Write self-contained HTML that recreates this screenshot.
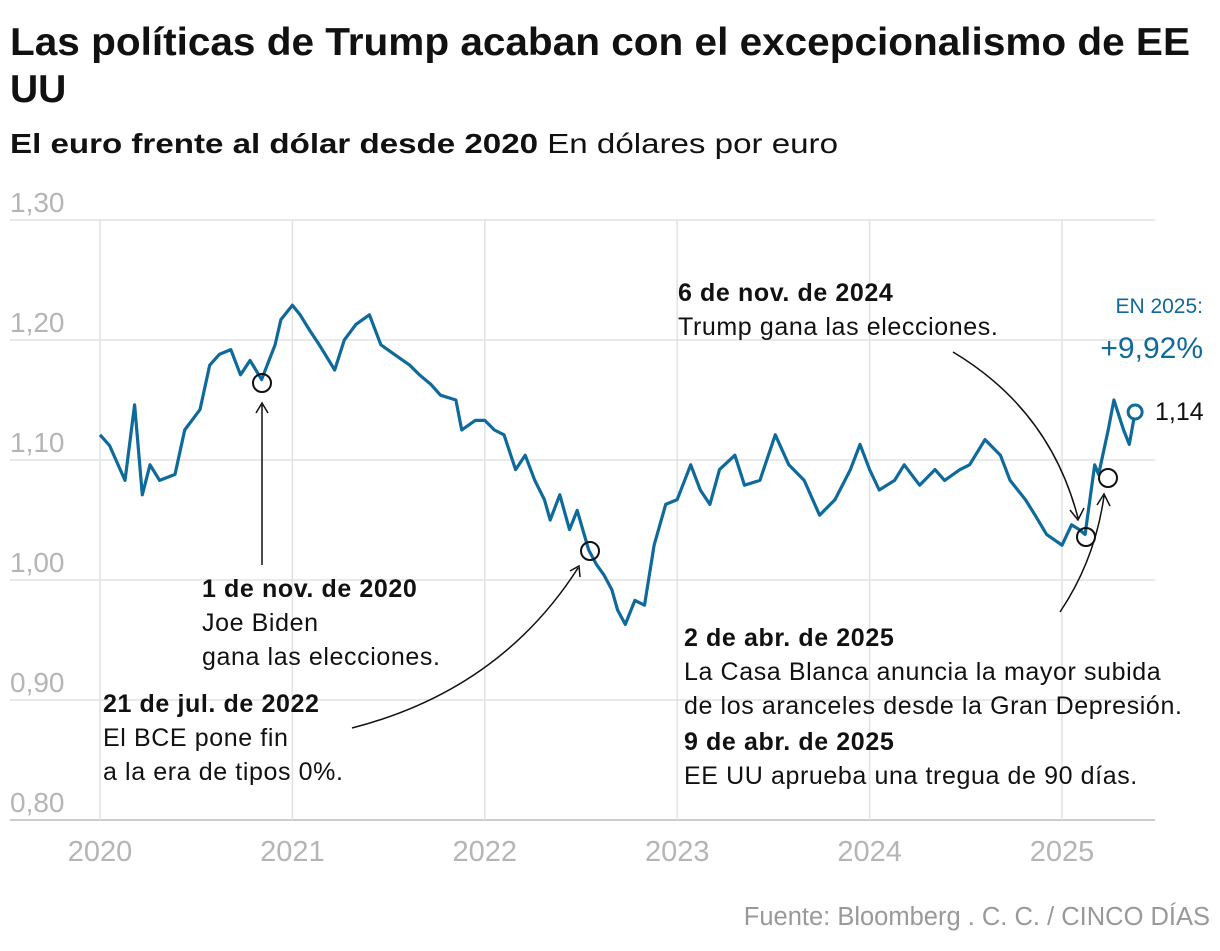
<!DOCTYPE html>
<html><head><meta charset="utf-8"><style>
body{margin:0;background:#fff;width:1220px;height:946px;overflow:hidden;font-family:"Liberation Sans",sans-serif}
</style></head><body>
<svg width="1220" height="946" viewBox="0 0 1220 946" xmlns="http://www.w3.org/2000/svg" font-family="Liberation Sans, sans-serif">
<text x="10" y="55" font-size="39" font-weight="bold" fill="#111" textLength="1180" lengthAdjust="spacingAndGlyphs">Las políticas de Trump acaban con el excepcionalismo de EE</text>
<text x="10" y="102" font-size="39" font-weight="bold" fill="#111">UU</text>
<text x="10" y="153" font-size="28" fill="#111" textLength="828" lengthAdjust="spacingAndGlyphs"><tspan font-weight="bold">El euro frente al dólar desde 2020</tspan> En dólares por euro</text>
<g id="grid"></g>
<g id="axes"></g>
<path id="line" fill="none" stroke="#0f6a9c" stroke-width="3.2" stroke-linejoin="round"/>
<g fill="none" stroke="#111" stroke-width="1.5">
<circle cx="262" cy="383" r="9" stroke-width="2"/>
<circle cx="590" cy="551" r="9" stroke-width="2"/>
<circle cx="1086" cy="537" r="9" stroke-width="2"/>
<circle cx="1108" cy="478" r="9" stroke-width="2"/>
<path d="M262 565 L262 405 M256 413 L262 403 L268 413"/>
<path d="M352 728 Q500 690 578 568 M570 571 L579 566 L580 577"/>
<path d="M953 352 Q1050 410 1078 518 M1070 510 L1078 520 L1084 508"/>
<path d="M1060 612 Q1095 560 1104 496 M1097 505 L1104 494 L1110 506"/>
</g>
<circle id="enddot" r="7" fill="#fff" stroke="#0f6a9c" stroke-width="3"/>
<text x="1155" y="420" font-size="25" fill="#111">1,14</text>
<text x="1203" y="313" font-size="21" fill="#0f6a9c" text-anchor="end">EN 2025:</text>
<text x="1203" y="358" font-size="30" fill="#0f6a9c" text-anchor="end">+9,92%</text>
<g font-size="25" fill="#111" letter-spacing="0.6">
<text x="202" y="597" font-weight="bold">1 de nov. de 2020</text>
<text x="202" y="631">Joe Biden</text>
<text x="202" y="665">gana las elecciones.</text>
<text x="103" y="712" font-weight="bold">21 de jul. de 2022</text>
<text x="103" y="746">El BCE pone fin</text>
<text x="103" y="780">a la era de tipos 0%.</text>
<text x="678" y="301" font-weight="bold">6 de nov. de 2024</text>
<text x="678" y="335">Trump gana las elecciones.</text>
<text x="684" y="646" font-weight="bold">2 de abr. de 2025</text>
<text x="684" y="680">La Casa Blanca anuncia la mayor subida</text>
<text x="684" y="714">de los aranceles desde la Gran Depresión.</text>
<text x="684" y="750" font-weight="bold">9 de abr. de 2025</text>
<text x="684" y="784">EE UU aprueba una tregua de 90 días.</text>
</g>
<text x="1210" y="925" font-size="25.5" fill="#999" text-anchor="end">Fuente: Bloomberg . C. C. / CINCO DÍAS</text>
<script>
const dates=[2020.00,2020.05,2020.13,2020.18,2020.22,2020.26,2020.31,2020.39,2020.44,2020.52,2020.57,2020.62,2020.68,2020.73,2020.78,2020.84,2020.91,2020.94,2021.00,2021.04,2021.09,2021.14,2021.22,2021.27,2021.33,2021.40,2021.46,2021.53,2021.61,2021.66,2021.72,2021.77,2021.85,2021.88,2021.95,2022.00,2022.05,2022.10,2022.16,2022.21,2022.26,2022.31,2022.34,2022.39,2022.44,2022.48,2022.54,2022.58,2022.62,2022.66,2022.69,2022.73,2022.78,2022.83,2022.88,2022.94,2023.00,2023.07,2023.12,2023.17,2023.22,2023.30,2023.35,2023.43,2023.51,2023.58,2023.66,2023.74,2023.82,2023.90,2023.95,2024.00,2024.05,2024.13,2024.18,2024.26,2024.34,2024.39,2024.47,2024.52,2024.60,2024.68,2024.73,2024.81,2024.86,2024.92,2025.00,2025.05,2025.09,2025.12,2025.17,2025.19,2025.24,2025.27,2025.32,2025.35,2025.38];
const values=[1.121,1.112,1.083,1.146,1.071,1.096,1.083,1.088,1.125,1.142,1.179,1.188,1.192,1.171,1.183,1.167,1.196,1.217,1.229,1.221,1.208,1.196,1.175,1.2,1.213,1.221,1.196,1.188,1.179,1.171,1.163,1.154,1.15,1.125,1.133,1.133,1.125,1.121,1.092,1.104,1.083,1.067,1.05,1.071,1.042,1.058,1.025,1.013,1.004,0.992,0.975,0.963,0.983,0.979,1.029,1.063,1.067,1.096,1.075,1.063,1.092,1.104,1.079,1.083,1.121,1.096,1.083,1.054,1.067,1.092,1.113,1.092,1.075,1.083,1.096,1.079,1.092,1.083,1.092,1.096,1.117,1.104,1.083,1.067,1.054,1.038,1.029,1.046,1.042,1.038,1.096,1.088,1.125,1.15,1.125,1.113,1.14];
const yTicks=[1.30,1.20,1.10,1.00,0.90,0.80];
const xTicks=[2020,2021,2022,2023,2024,2025];
const X=d=>100+(d-2020)*192.4;
const Y=v=>220+(1.30-v)*1200;
const ns="http://www.w3.org/2000/svg";
const g=document.getElementById('grid'),ax=document.getElementById('axes');
yTicks.forEach(t=>{
 const l=document.createElementNS(ns,'line');
 
 
 l.setAttribute('x1',10);l.setAttribute('x2',1155);l.setAttribute('y1',Y(t));l.setAttribute('y2',Y(t));
 l.setAttribute('stroke',t===0.80?'#ccc':'#e2e2e2');l.setAttribute('stroke-width',t===0.80?2:1.5);
 g.appendChild(l);
 const tx=document.createElementNS(ns,'text');
 
 
 tx.setAttribute('x',10);tx.setAttribute('y',Y(t)-8);tx.setAttribute('font-size','28');tx.setAttribute('fill','#b5b5b5');
 tx.textContent=t.toFixed(2).replace('.',',');ax.appendChild(tx);
});
xTicks.forEach(t=>{
 const l=document.createElementNS(ns,'line');
 
 
 l.setAttribute('x1',X(t));l.setAttribute('x2',X(t));l.setAttribute('y1',220);l.setAttribute('y2',820);
 l.setAttribute('stroke','#e2e2e2');l.setAttribute('stroke-width',1.5);g.appendChild(l);
 const tx=document.createElementNS(ns,'text');
 
 
 tx.setAttribute('x',X(t));tx.setAttribute('y',861);tx.setAttribute('font-size','29');tx.setAttribute('fill','#b5b5b5');tx.setAttribute('text-anchor','middle');
 tx.textContent=t;ax.appendChild(tx);
});
document.getElementById('line').setAttribute('d',dates.map((d,i)=>(i?'L':'M')+X(d).toFixed(1)+' '+Y(values[i]).toFixed(1)).join(' '));
const e=document.getElementById('enddot');
e.setAttribute('cx',X(dates[dates.length-1]));e.setAttribute('cy',Y(values[values.length-1]));
</script>
</svg>
</body></html>
